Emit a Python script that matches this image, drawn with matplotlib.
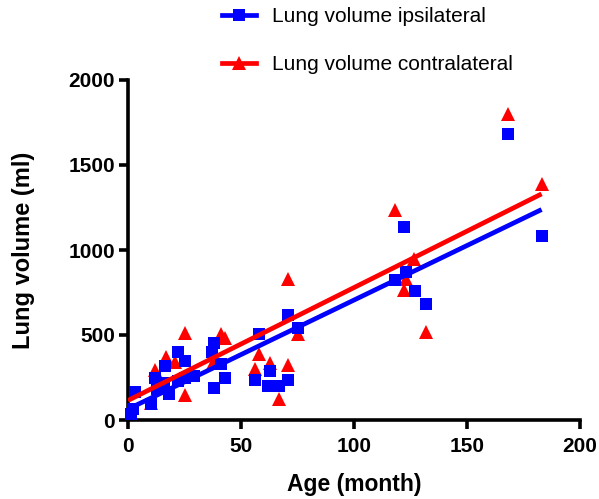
import numpy as np
import matplotlib
matplotlib.use("Agg")
import matplotlib.pyplot as plt
from matplotlib.lines import Line2D

plt.rcParams['font.family'] = ['Liberation Sans', 'DejaVu Sans']

# ipsilateral lung volume (blue squares)
age_ipsi = [1.5, 2.4, 3, 10, 12, 13, 16, 16.5, 18, 22, 22, 25, 25, 29, 37, 38, 38,
            41, 43, 56, 58, 62, 63, 67, 71, 71, 75, 118, 122, 123, 127, 132, 168, 183]
vol_ipsi = [35, 63, 165, 92, 250, 180, 220, 318, 151, 400, 230, 347, 250, 259, 402, 455, 190,
            332, 245, 233, 504, 200, 288, 200, 616, 233, 543, 822, 1135, 873, 759, 680, 1680, 1080]

# contralateral lung volume (red triangles), the ones visible
age_contra = [10, 12, 17, 21, 25, 25, 37.5, 41, 43, 56, 58, 63, 67, 71, 71, 75,
              118, 122, 123, 126.5, 132, 168, 183]
vol_contra = [100, 292, 370, 340, 510, 150, 338, 504, 485, 298, 386, 338, 122, 324, 832, 504,
              1233, 765, 828, 945, 520, 1800, 1390]

# regression lines
fit_age = [0, 183]
fit_ipsi = [64, 1238]
fit_contra = [115, 1330]

labels = ['Lung volume ipsilateral', 'Lung volume contralateral']
blue = '#0000ff'
red = '#ff0000'

fig = plt.figure(figsize=(5.99, 4.99), dpi=100)
ax = fig.add_axes([128 / 599, 79 / 499, 452 / 599, 340 / 499])

ax.plot(age_contra, vol_contra, linestyle='none', marker='^', ms=9.5, mew=0,
        color=red, zorder=2, clip_on=False)
ax.plot(age_ipsi, vol_ipsi, linestyle='none', marker='s', ms=8, mew=0,
        color=blue, zorder=3, clip_on=False)
ax.plot(fit_age, fit_ipsi, color=blue, lw=3.4, zorder=4, solid_capstyle='butt')
ax.plot(fit_age, fit_contra, color=red, lw=3.4, zorder=5, solid_capstyle='butt')

ax.set_xlim(0, 200)
ax.set_ylim(0, 2000)
ax.set_xticks([0, 50, 100, 150, 200])
ax.set_yticks([0, 500, 1000, 1500, 2000])
for s in ['top', 'right']:
    ax.spines[s].set_visible(False)
for s in ['left', 'bottom']:
    ax.spines[s].set_linewidth(2.6)
ax.tick_params(direction='out', length=6.5, width=2.6, labelsize=15)
ax.tick_params(axis='x', pad=6)
ax.tick_params(axis='y', pad=3)
for t in ax.get_xticklabels() + ax.get_yticklabels():
    t.set_fontweight('bold')

ax.set_xlabel('Age (month)', fontsize=16.5, fontweight='bold', labelpad=12)
ax.set_ylabel('Lung volume (ml)', fontsize=17, fontweight='bold', labelpad=24)

handles = [Line2D([], [], color=blue, lw=3.4, marker='s', ms=8, mew=0),
           Line2D([], [], color=red, lw=3.4, marker='^', ms=9.5, mew=0)]
fig.legend(handles, labels, loc='upper left', bbox_to_anchor=(222 / 599, 1 - 7 / 499),
           frameon=False, fontsize=15, handlelength=1.65, handletextpad=0.75,
           labelspacing=1.4, borderpad=0, borderaxespad=0)

fig.savefig('out.png', dpi=100)
